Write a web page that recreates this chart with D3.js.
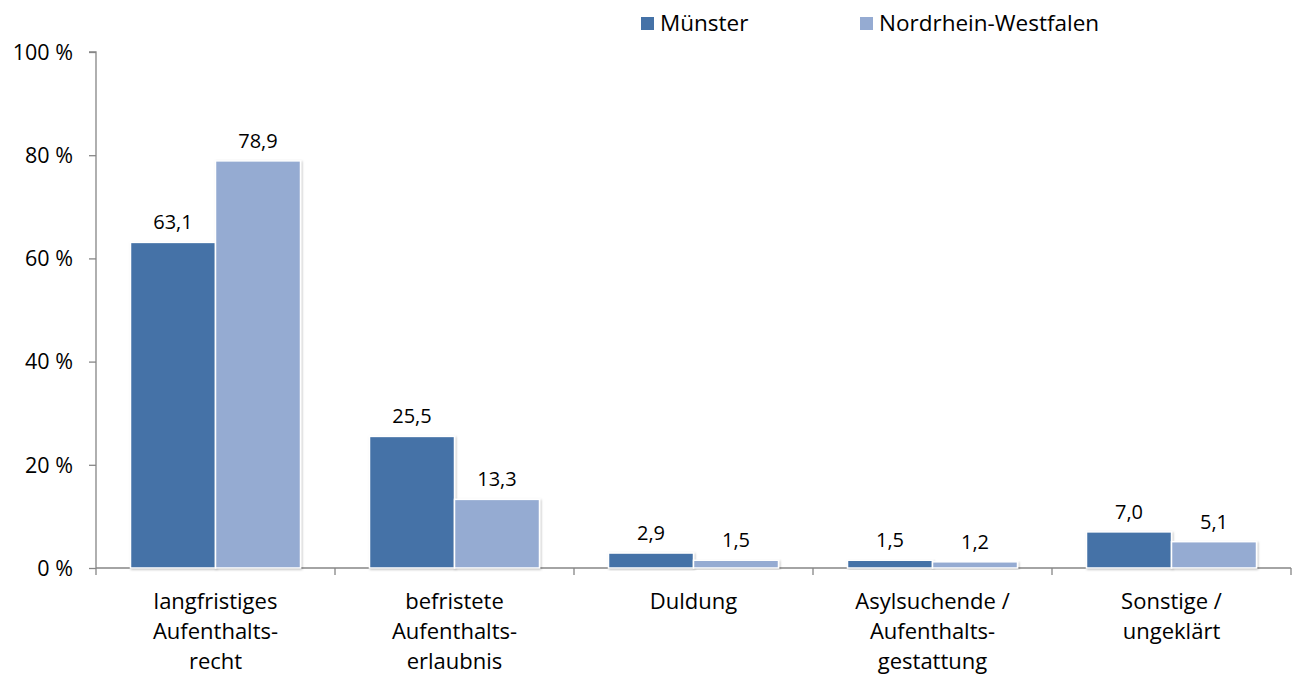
<!DOCTYPE html>
<html lang="de">
<head>
  <meta charset="utf-8">
  <title>Aufenthaltsstatus</title>
  <script src="https://d3js.org/d3.v7.min.js"></script>
  <style>
    body { margin: 0; background: #fff; }
    text { font-family: "Open Sans", "Liberation Sans", sans-serif; fill: #000; }
    .tick-label { font-size: 21.5px; text-anchor: end; }
    .cat-label { font-size: 22px; text-anchor: middle; }
    .val-label { font-size: 20px; text-anchor: middle; }
    .legend { font-size: 22.5px; }
  </style>
</head>
<body>
  <div id="chart"></div>
  <script>
    var categories = [
      ['langfristiges', 'Aufenthalts-', 'recht'],
      ['befristete', 'Aufenthalts-', 'erlaubnis'],
      ['Duldung'],
      ['Asylsuchende /', 'Aufenthalts-', 'gestattung'],
      ['Sonstige /', 'ungeklärt']
    ];
    var series = ['Münster', 'Nordrhein-Westfalen'];
    var muenster = [63.1, 25.5, 2.9, 1.5, 7.0];
    var nrw = [78.9, 13.3, 1.5, 1.2, 5.1];
    var yTicks = [0, 20, 40, 60, 80, 100];
    var colors = ['#4572a7', '#95abd2'];

    var w = 1293, h = 679;
    var mLeft = 96, mRight = 1291, mTop = 52, mBottom = 568;

    var svg = d3.select('#chart').append('svg')
      .attr('width', w)
      .attr('height', h);

    var defs = svg.append('defs');
    var f = defs.append('filter').attr('id', 'shadow')
      .attr('x', '-10%').attr('y', '-10%').attr('width', '130%').attr('height', '130%');
    f.append('feDropShadow').attr('dx', 1).attr('dy', 1).attr('stdDeviation', 1.2)
      .attr('flood-color', '#000').attr('flood-opacity', 0.25);

    var x = d3.scaleBand()
      .domain(d3.range(categories.length))
      .range([mLeft, mRight]);

    var y = d3.scaleLinear().domain([0, 100]).range([mBottom, mTop]);

    var barW = 85;
    var inner = d3.scaleBand().domain(d3.range(series.length))
      .range([0, barW * 2]);

    // y axis
    var yAxis = svg.append('g').attr('transform', 'translate(' + mLeft + ',0)')
      .call(d3.axisLeft(y).tickValues(yTicks).tickSize(7).tickFormat(''));
    yAxis.select('.domain').attr('stroke', '#868686').attr('stroke-width', 1.3)
      .attr('d', 'M-7,' + mTop + 'H0V' + mBottom);
    yAxis.selectAll('.tick line').attr('stroke', '#868686').attr('stroke-width', 1.3);

    svg.selectAll('text.tick-label')
      .data(yTicks)
      .enter().append('text')
      .attr('class', 'tick-label')
      .attr('x', 73)
      .attr('y', function (d) { return y(d); })
      .attr('dy', '.36em')
      .text(function (d) { return d + ' %'; });

    // x axis
    var xAxis = svg.append('g').attr('transform', 'translate(0,' + mBottom + ')')
      .call(d3.axisBottom(x).tickSize(0).tickFormat(''));
    xAxis.select('.domain').attr('stroke', '#868686').attr('stroke-width', 1.3)
      .attr('d', 'M' + mLeft + ',0H' + mRight);
    xAxis.selectAll('.tick').remove();
    var xTicks = d3.range(categories.length + 1).map(function (i) {
      return i < categories.length ? x(i) : x(i - 1) + x.bandwidth();
    });
    svg.selectAll('line.xtick')
      .data(xTicks)
      .enter().append('line')
      .attr('class', 'xtick')
      .attr('x1', function (d) { return d; })
      .attr('x2', function (d) { return d; })
      .attr('y1', mBottom)
      .attr('y2', mBottom + 7)
      .attr('stroke', '#868686')
      .attr('stroke-width', 1.3);

    // bars
    var data = [];
    categories.forEach(function (c, i) {
      [muenster[i], nrw[i]].forEach(function (v, s) {
        data.push({ cat: i, s: s, v: v });
      });
    });

    function bx(d) {
      return x(d.cat) + (x.bandwidth() - barW * 2) / 2 + inner(d.s);
    }

    svg.selectAll('rect.bar')
      .data(data)
      .enter().append('rect')
      .attr('class', 'bar')
      .attr('x', bx)
      .attr('y', function (d) { return y(d.v); })
      .attr('width', inner.bandwidth())
      .attr('height', function (d) { return mBottom - y(d.v); })
      .attr('fill', function (d) { return colors[d.s]; })
      .attr('stroke', '#fff')
      .attr('stroke-width', 1.5)
      .attr('filter', 'url(#shadow)');

    svg.selectAll('text.val-label')
      .data(data)
      .enter().append('text')
      .attr('class', 'val-label')
      .attr('x', function (d) { return bx(d) + inner.bandwidth() / 2; })
      .attr('y', function (d) { return y(d.v) - 13; })
      .text(function (d) { return d.v.toFixed(1).replace('.', ','); });

    // category labels
    var cat = svg.selectAll('text.cat-label')
      .data(categories)
      .enter().append('text')
      .attr('class', 'cat-label')
      .attr('x', function (d, i) { return x(i) + x.bandwidth() / 2; })
      .attr('y', 609);
    cat.selectAll('tspan')
      .data(function (d) { return d; })
      .enter().append('tspan')
      .attr('x', function () { return d3.select(this.parentNode).attr('x'); })
      .attr('dy', function (d, i) { return i === 0 ? 0 : 30; })
      .text(function (d) { return d; });

    // legend
    var legendX = [641, 860];
    var lg = svg.selectAll('g.legend')
      .data(series)
      .enter().append('g')
      .attr('class', 'legend')
      .attr('transform', function (d, i) { return 'translate(' + legendX[i] + ',17)'; });
    lg.append('rect')
      .attr('width', 13).attr('height', 13)
      .attr('fill', function (d, i) { return colors[i]; });
    lg.append('text')
      .attr('x', 19).attr('y', 6).attr('dy', '.36em')
      .text(function (d) { return d; });
  </script>
</body>
</html>
